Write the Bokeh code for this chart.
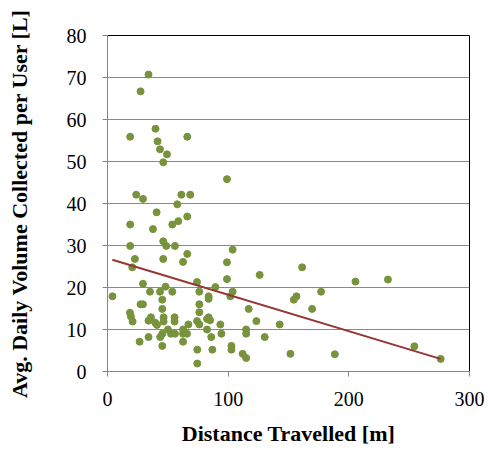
from bokeh.plotting import figure
from bokeh.models import Range1d, FixedTicker
from bokeh.embed import file_html
from bokeh.resources import INLINE

distance = [34, 27.4, 39.8, 18.8, 66.1, 41.5, 43.5, 49.3, 46.2, 99, 23.8, 29.4, 61.2, 68.6,
            57.8, 40.7, 18.8, 53.7, 58.7, 66.1, 37.7, 46.2, 48.7, 55.9, 18.8, 22.7, 46.2, 66.1,
            62.6, 20.5, 29.4, 4.1, 35.2, 43.5, 48.1, 53.7, 45.4, 27.4, 29.4, 45.4, 18.6, 19.4,
            20.8, 36, 34, 39.6, 41, 46.5, 46.5, 55.6, 55.6, 50.1, 52.6, 55.9, 62.6, 62.6, 65.9,
            67, 45.4, 43.7, 34, 26.6, 45.4, 62.6, 74.4, 74.4, 74.2, 76.1, 76.1, 76.1, 74.2, 76.1,
            82.5, 83.8, 83.8, 83.8, 85, 82.5, 86, 86.9, 99, 103.7, 126.1, 161.3, 99, 89.4, 103.7,
            101.8, 93.5, 94.4, 117, 114.9, 114.9, 123.4, 130.3, 102.7, 102.7, 112, 114.9, 142.7,
            151.6, 154.4, 156.6, 169.6, 177, 205.5, 232.4, 188.4, 254.3, 276.1]
volume = [70.7, 66.7, 57.8, 55.9, 55.9, 54.8, 52.9, 51.7, 49.8, 45.8, 42.1, 41.1, 42.1, 42.1,
          39.8, 37.9, 35, 35, 35.8, 36.9, 33.9, 31, 29.9, 29.9, 29.9, 26.8, 26.8, 28,
          26.1, 24.8, 20.9, 17.9, 19, 19, 20.2, 19, 17.1, 16, 16, 14.9, 14, 13.1,
          11.9, 12.9, 12.1, 11.6, 11.1, 12.9, 11.9, 12.9, 11.9, 10, 9, 9, 10, 9, 9,
          11.2, 9, 8.2, 8.2, 7.1, 6.1, 7.1, 5.2, 1.9, 21.3, 19, 16, 14.1, 12, 11.2,
          10, 17.3, 17.9, 12.9, 12.2, 12.5, 8.2, 5.2, 26, 29, 23, 24.8, 22, 20.1, 19,
          17.9, 11.2, 9, 14.9, 10, 9, 12, 8.2, 6.1, 5.2, 4.2, 3.2, 11.2,
          4.2, 17.1, 17.9, 14.9, 19, 21.4, 21.9, 4.1, 6, 3]

trend_x = [4, 276]
trend_y = [26.6, 3.0]

x_ticks = [0, 100, 200, 300]
y_ticks = [0, 10, 20, 30, 40, 50, 60, 70, 80]

p = figure(width=488, height=452, output_backend="svg", toolbar_location=None,
           x_range=Range1d(0, 300), y_range=Range1d(0, 80),
           min_border_left=107, min_border_right=19, min_border_top=35, min_border_bottom=81)
p.background_fill_color = "white"
p.border_fill_color = "white"
p.outline_line_color = "black"
p.outline_line_width = 1

p.xgrid.grid_line_color = None
p.ygrid.grid_line_color = "#8a8a8a"
p.ygrid.ticker = FixedTicker(ticks=y_ticks)

grey = "#868686"
for ax in (p.xaxis[0], p.yaxis[0]):
    ax.axis_line_color = grey
    ax.major_tick_line_color = grey
    ax.major_tick_out = 5
    ax.major_tick_in = 0
    ax.minor_tick_line_color = None
    ax.major_label_text_font = "Liberation Serif"
    ax.major_label_text_font_size = "20px"
    ax.major_label_text_color = "black"
    ax.axis_label_text_font = "Liberation Serif"
    ax.axis_label_text_font_style = "bold"
    ax.axis_label_text_font_size = "22px"
    ax.axis_label_text_color = "black"

p.xaxis.ticker = FixedTicker(ticks=x_ticks)
p.yaxis.ticker = FixedTicker(ticks=y_ticks)
p.xaxis.axis_label = "Distance Travelled [m]"
p.yaxis.axis_label = "Avg. Daily Volume Collected per User [L]"
p.xaxis.major_label_standoff = 15
p.yaxis.major_label_standoff = 16
p.xaxis.axis_label_standoff = 12
p.yaxis.axis_label_standoff = 32

p.scatter(distance, volume, size=7, color="#77933C", line_color="#77933C")
p.line(trend_x, trend_y, line_color="#943634", line_width=2)

open("out.html", "w").write(file_html(p, INLINE))
